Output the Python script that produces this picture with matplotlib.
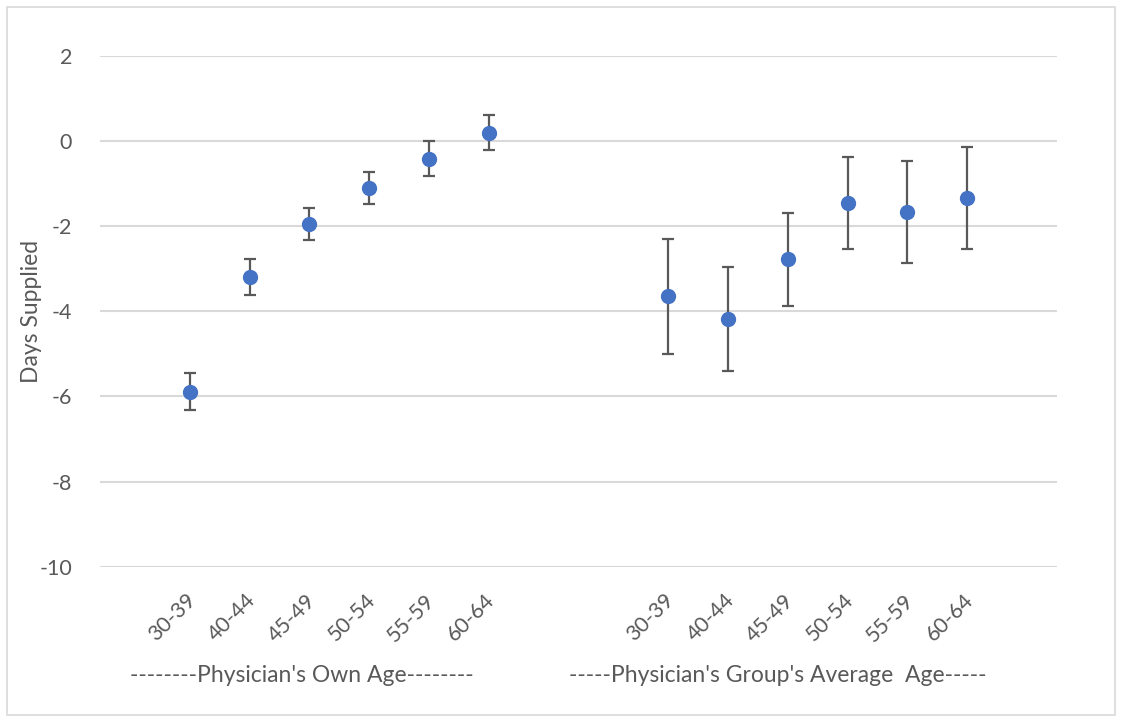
import matplotlib
matplotlib.use("Agg")
import matplotlib.pyplot as plt
from matplotlib.patches import Rectangle
from matplotlib.transforms import ScaledTranslation

plt.rcParams['font.family'] = ['Lato', 'DejaVu Sans']
plt.rcParams['axes.unicode_minus'] = False

age_bands = ["30-39", "40-44", "45-49", "50-54", "55-59", "60-64"]

own_age_est = [-5.89, -3.20, -1.94, -1.10, -0.41, 0.20]
own_age_err = [0.43, 0.42, 0.38, 0.37, 0.41, 0.41]

group_age_est = [-3.65, -4.17, -2.78, -1.46, -1.67, -1.34]
group_age_err = [1.36, 1.22, 1.10, 1.08, 1.20, 1.20]

group_titles = ["--------Physician's Own Age--------",
                "-----Physician's Group's Average  Age-----"]

# slot layout: one empty slot, six bands, two empty slots, six bands, one empty slot
own_x = list(range(1, 7))
group_x = list(range(9, 15))

TEXT = "#595959"
BLUE = "#4472C4"
GRID = "#D9D9D9"

W, H = 1124, 721
fig = plt.figure(figsize=(W / 100, H / 100), dpi=100)
fig.patches.append(Rectangle((7 / W, 6 / H), 1108 / W, 708 / H,
                             transform=fig.transFigure, fill=False,
                             edgecolor="#D9D9D9", linewidth=1.2))

ax = fig.add_axes([100 / W, 1 - 566.7 / H, 957 / W, (566.7 - 56) / H])
ax.set_xlim(-0.5, 15.5)
ax.set_ylim(-10, 2)
ax.set_yticks(range(-10, 3, 2))
ax.yaxis.grid(True, color=GRID, linewidth=1.5)
ax.set_axisbelow(True)
for s in ax.spines.values():
    s.set_visible(False)

for xs, ys, es in [(own_x, own_age_est, own_age_err),
                   (group_x, group_age_est, group_age_err)]:
    ax.errorbar(xs, ys, yerr=es, fmt="o", color=BLUE, markersize=10,
                markeredgecolor=BLUE, ecolor="#595959", elinewidth=1.6,
                capsize=4.5, capthick=1.6, zorder=3)

ax.set_xticks(own_x + group_x)
ax.set_xticklabels(age_bands + age_bands, rotation=45, ha="right",
                   va="center", rotation_mode="anchor")
ax.tick_params(axis="x", length=0, pad=22, labelsize=15.5, labelcolor=TEXT)
ax.tick_params(axis="y", length=0, pad=20, labelsize=15.5, labelcolor=TEXT)
shift = ScaledTranslation(3 / 100, 0, fig.dpi_scale_trans)
for lbl in ax.get_xticklabels():
    lbl.set_transform(lbl.get_transform() + shift)

fig.text(31 / W, 1 - 311 / H, "Days Supplied", rotation=90, ha="center",
         va="center", fontsize=16.5, color=TEXT)

fig.text(302 / W, 1 - 675 / H, group_titles[0], ha="center", va="center",
         fontsize=16.5, color=TEXT)
fig.text(778 / W, 1 - 675 / H, group_titles[1], ha="center", va="center",
         fontsize=16.5, color=TEXT)

fig.savefig("out.png", dpi=100, facecolor="white")
